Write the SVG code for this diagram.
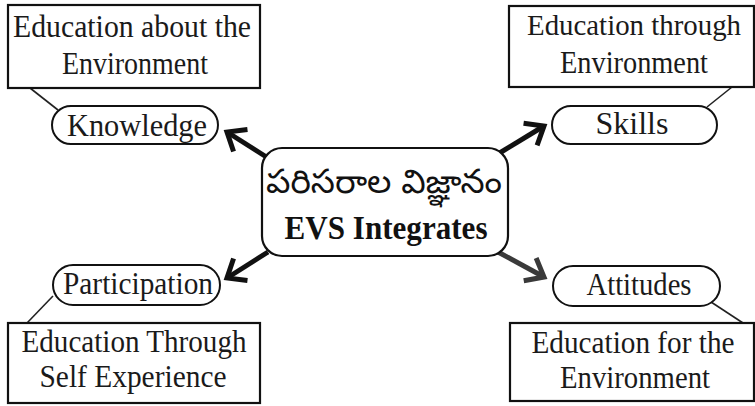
<svg xmlns="http://www.w3.org/2000/svg" width="755" height="406" viewBox="0 0 755 406">
<defs>
<style>
.box{fill:#fff;stroke:#111;stroke-width:2.2}
.pill{fill:#fff;stroke:#111;stroke-width:2}
.t{font-family:"Liberation Serif","Times New Roman",serif;font-size:32px;fill:#1a1a1a;text-anchor:middle}
.b{font-family:"Liberation Serif","Times New Roman",serif;font-size:33px;font-weight:bold;fill:#111;text-anchor:middle}
.te{font-family:"Noto Sans Telugu","Noto Serif Telugu","Noto Sans",sans-serif;font-size:33px;fill:#111;text-anchor:middle}
.link{stroke:#222;stroke-width:1.6;fill:none}
.arr{stroke:#111;stroke-width:5;fill:none;marker-end:url(#chev)}
</style>
<marker id="chev" markerUnits="userSpaceOnUse" markerWidth="34" markerHeight="34" viewBox="-22 -17 28 34" refX="0" refY="0" orient="auto">
<path d="M-16,-13 L0,0 L-16,13" fill="none" stroke="#111" stroke-width="5"/>
</marker>
<marker id="chevg" markerUnits="userSpaceOnUse" markerWidth="34" markerHeight="34" viewBox="-22 -17 28 34" refX="0" refY="0" orient="auto">
<path d="M-16,-13 L0,0 L-16,13" fill="none" stroke="#3a3a3a" stroke-width="5"/>
</marker>
</defs>
<rect width="755" height="406" fill="#fff"/>
<g id="connectors">
<line class="link" x1="30" y1="88" x2="58" y2="110"/>
<line class="link" x1="707" y1="107" x2="732" y2="87" stroke="#555"/>
<line class="link" x1="53" y1="296" x2="27" y2="323"/>
<line class="link" x1="708" y1="300" x2="743" y2="323"/>
<line class="arr" x1="268" y1="158" x2="227" y2="132"/>
<line class="arr" x1="498" y1="154" x2="544" y2="126"/>
<line class="arr" x1="268" y1="252" x2="227" y2="278"/>
<line class="arr" x1="498" y1="252" x2="544" y2="277" style="stroke:#3a3a3a;marker-end:url(#chevg)"/>
</g>
<g id="center">
<rect class="box" x="262" y="148" width="246" height="108" rx="20"/>
<text class="te" x="384" y="193" textLength="236" lengthAdjust="spacingAndGlyphs">పరిసరాల  విజ్ఞానం</text>
<text class="b" x="386" y="239" textLength="203" lengthAdjust="spacingAndGlyphs">EVS Integrates</text>
</g>
<g id="box-about">
<rect class="box" x="8" y="5" width="252" height="83"/>
<text class="t" x="132" y="37" textLength="238" lengthAdjust="spacingAndGlyphs">Education about the</text>
<text class="t" x="135" y="74" textLength="146" lengthAdjust="spacingAndGlyphs">Environment</text>
</g>
<g id="knowledge">
<rect class="pill" x="52" y="106" width="166" height="38" rx="19"/>
<text class="t" x="137" y="136" textLength="140" lengthAdjust="spacingAndGlyphs">Knowledge</text>
</g>
<g id="box-through">
<rect class="box" x="509" y="6" width="245" height="81"/>
<text class="t" x="634" y="35" textLength="214" lengthAdjust="spacingAndGlyphs" style="font-size:30px">Education through</text>
<text class="t" x="634" y="73" textLength="148" lengthAdjust="spacingAndGlyphs">Environment</text>
</g>
<g id="skills">
<rect class="pill" x="552" y="106" width="165" height="38" rx="19"/>
<text class="t" x="632" y="134">Skills</text>
</g>
<g id="participation">
<rect class="pill" x="53" y="265" width="167" height="40" rx="20"/>
<text class="t" x="138" y="294" textLength="150" lengthAdjust="spacingAndGlyphs">Participation</text>
</g>
<g id="box-self">
<rect class="box" x="8" y="323" width="252" height="80"/>
<text class="t" x="134" y="352" textLength="225" lengthAdjust="spacingAndGlyphs">Education Through</text>
<text class="t" x="133" y="387" textLength="187" lengthAdjust="spacingAndGlyphs">Self Experience</text>
</g>
<g id="attitudes">
<rect class="pill" x="553" y="266" width="167" height="40" rx="20"/>
<text class="t" x="639" y="295" textLength="105" lengthAdjust="spacingAndGlyphs">Attitudes</text>
</g>
<g id="box-for">
<rect class="box" x="510" y="323" width="244" height="78"/>
<text class="t" x="633" y="353" textLength="203" lengthAdjust="spacingAndGlyphs">Education for the</text>
<text class="t" x="635" y="388" textLength="150" lengthAdjust="spacingAndGlyphs">Environment</text>
</g>
</svg>
